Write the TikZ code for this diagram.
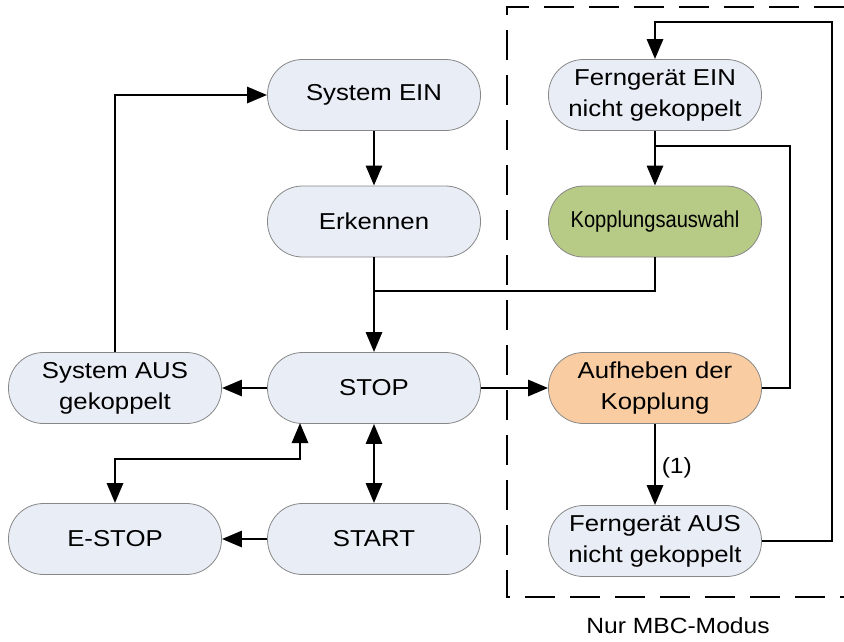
\documentclass[tikz,border=0pt]{standalone}
\usepackage{fontspec}
\setmainfont{Liberation Sans}[FakeStretch=1.12]
\usetikzlibrary{arrows.meta,calc}
\definecolor{nodeblue}{RGB}{233,237,246}
\definecolor{nodegreen}{RGB}{183,202,134}
\definecolor{nodeorange}{RGB}{249,204,162}
\definecolor{bordergray}{RGB}{135,135,135}
\begin{document}
\begin{tikzpicture}[x=1pt,y=-1pt,
  state/.style={draw=bordergray,line width=0.8pt,fill=nodeblue,rounded corners=35pt,
    minimum width=213pt,minimum height=71pt,align=center,inner sep=0pt,
    font=\fontsize{23}{31}\selectfont},
  conn/.style={line width=2.9pt,draw=black},
  arr/.style={conn,-{Triangle[length=20pt,width=16pt]}},
  dblarr/.style={conn,{Triangle[length=20pt,width=16pt]}-{Triangle[length=20pt,width=16pt]}},
  zone/.style={line width=1.8pt,dash pattern=on 30pt off 15pt}
]
\useasboundingbox (0,0) rectangle (844,641);
% dashed zone
\draw[zone] (844,7) -- (507,7) -- (507,597) -- (844,597);
\node[font=\fontsize{22}{26}\selectfont] (lbl) at (678,626) {Nur MBC-Modus};

% nodes
\node[state] (sysein) at (374,95) {System EIN};
\node[state] (erk) at (374,221.5) {Erkennen};
\node[state] (stop) at (374,388) {STOP};
\node[state] (sysaus) at (115,388) {System AUS\\gekoppelt};
\node[state] (estop) at (115,539) {E-STOP};
\node[state] (start) at (374,539) {START};
\node[state] (fein) at (655,95) {Ferngerät EIN\\nicht gekoppelt};
\node[state,fill=nodegreen] (kop) at (655,221.5) {\scalebox{0.78}[1]{Kopplungsauswahl}};
\node[state,fill=nodeorange] (auf) at (655,388) {Aufheben der\\Kopplung};
\node[state] (faus) at (655,541) {Ferngerät AUS\\nicht gekoppelt};

% junction coordinates
\coordinate (j1) at (374,291);
\coordinate (j2) at (655,146);
\coordinate (s1) at (300,423);
\coordinate (c1) at (832,22);
\coordinate (c2) at (790,146);

% connectors
\draw[arr] (sysein) -- (erk);
\draw[arr] (erk) -- (stop);
\draw[conn] (kop.south) |- (j1);
\draw[arr] (stop) -- (sysaus);
\draw[arr] (sysaus.north) |- (sysein.west);
\draw[arr] (stop) -- (auf);
\draw[dblarr] (s1) -- ++(0,36) -| (estop.north);
\draw[dblarr] (stop) -- (start);
\draw[arr] (start) -- (estop);
\draw[arr] (auf) -- node[right,font=\fontsize{22}{26}\selectfont,xshift=2pt,yshift=-3pt] (lab1) {(1)} (faus);
\draw[conn] (auf.east) -| (c2) -- (j2);
\draw[arr] (fein) -- (kop);
\draw[arr] (faus.east) -| (c1) -| (fein.north);
\end{tikzpicture}
\end{document}
